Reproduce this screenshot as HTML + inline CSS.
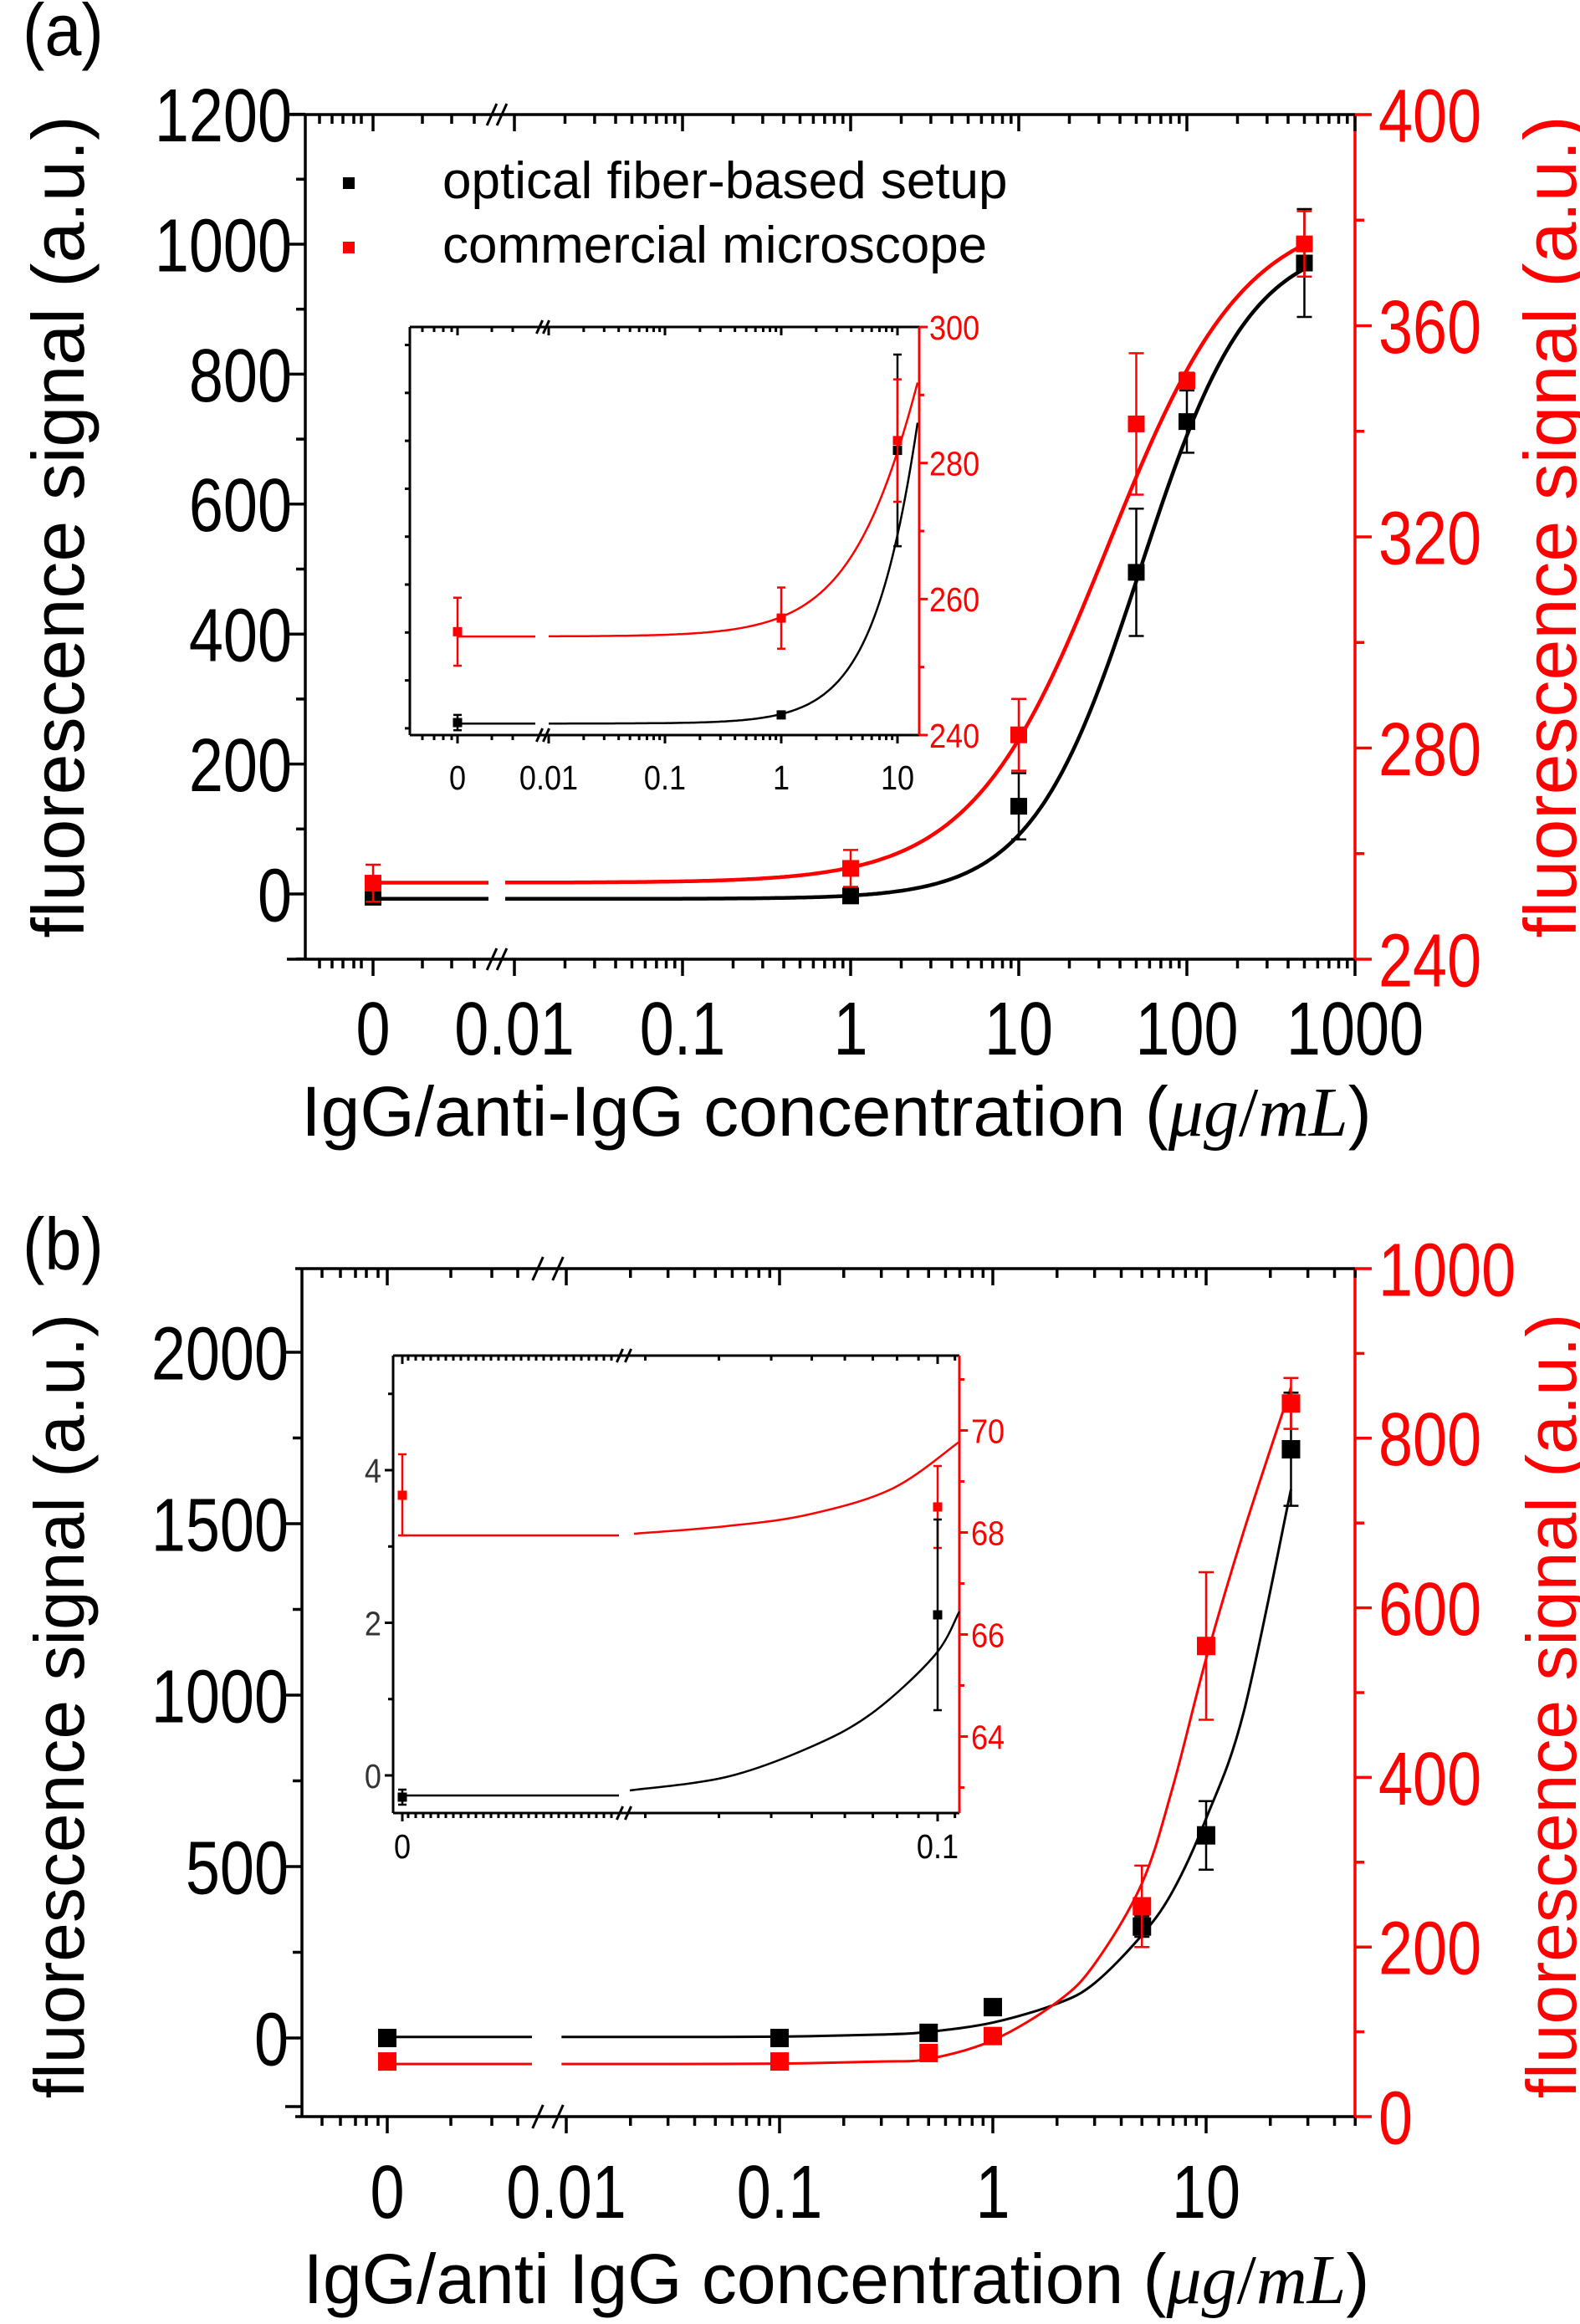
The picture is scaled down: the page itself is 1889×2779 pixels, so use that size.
<!DOCTYPE html>
<html><head><meta charset="utf-8">
<style>html,body{margin:0;padding:0;background:#fff;}svg{display:block;font-family:"Liberation Sans",sans-serif;}</style>
</head><body>
<svg id="s" xmlns="http://www.w3.org/2000/svg" width="1889" height="2779" viewBox="0 0 1889 2779"></svg>
<script>
const S=[];const R='#ff0000';
const lg=Math.log10;
function L(x1,y1,x2,y2,c,w){S.push(`<line x1="${x1}" y1="${y1}" x2="${x2}" y2="${y2}" stroke="${c||'#000'}" stroke-width="${w||3.5}"/>`);}
function T(x,y,s,size,anchor,c,sx){S.push(`<text transform="translate(${x},${y}) scale(${sx||1},1)" font-size="${size}" text-anchor="${anchor||'middle'}" fill="${c||'#000'}">${s}</text>`);}
function PL(pts,c,w){if(pts.length<2)return;S.push(`<polyline points="${pts.map(p=>p[0].toFixed(1)+','+p[1].toFixed(1)).join(' ')}" fill="none" stroke="${c}" stroke-width="${w}" stroke-linejoin="round"/>`);}
function CR(pts,c,w){
  let d=`M${pts[0][0]},${pts[0][1]}`;
  for(let i=0;i<pts.length-1;i++){const p0=pts[Math.max(0,i-1)],p1=pts[i],p2=pts[i+1],p3=pts[Math.min(pts.length-1,i+2)];
    d+=` C${p1[0]+(p2[0]-p0[0])/6},${p1[1]+(p2[1]-p0[1])/6} ${p2[0]-(p3[0]-p1[0])/6},${p2[1]-(p3[1]-p1[1])/6} ${p2[0]},${p2[1]}`;}
  S.push(`<path d="${d}" fill="none" stroke="${c}" stroke-width="${w}"/>`);}
function SQ(x,y,s,c){S.push(`<rect x="${x-s/2}" y="${y-s/2}" width="${s}" height="${s}" fill="${c}"/>`);}
function EB(x,y1,y2,cw,c,w){L(x,y1,x,y2,c,w);L(x-cw/2,y1,x+cw/2,y1,c,w);L(x-cw/2,y2,x+cw/2,y2,c,w);}
function slash(x,y,h){L(x-h*0.45,y+h,x+h*0.45,y-h,'#000',3);}

function axes(o){
  const {l,r,t,b,ax0,fx,xm,xmin,xextra,yL,yR,brk,fs,sx,ml,mn,lw,lblY}=o;
  L(ax0,t,r,t,'#000',lw);L(ax0,b,r,b,'#000',lw);L(l,t,l,b,'#000',lw);L(r,t,r,b,R,lw);
  xm.forEach(m=>{const x=fx(m[0]);L(x,b,x,b+ml,'#000',lw);L(x,t,x,t+ml,'#000',lw);T(x,lblY,m[1],fs,'middle','#000',sx);});
  xmin.concat(xextra).forEach(x=>{L(x,b,x,b+mn,'#000',lw);L(x,t,x,t+mn,'#000',lw);});
  for(let v=yL.s;v<=yL.max+1e-9;v+=yL.minor){const y=yL.f(v);if(y<t-1||y>b+1)continue;
    const maj=Math.abs((v/yL.major)-Math.round(v/yL.major))<1e-6;
    L(l-(maj?ml:mn),y,l,y,'#000',lw);
    if(maj&&v>=yL.lab0)T(l-(o.lgap||16),y+fs*0.36,String(v),fs,'end',o.lc||'#000',sx);}
  for(let v=yR.s;v<=yR.max+1e-9;v+=yR.minor){const y=yR.f(v);if(y<t-1||y>b+1)continue;
    const maj=Math.abs((v/yR.major)-Math.round(v/yR.major))<1e-6;
    L(r,y,r+(maj?ml:mn),y,R,lw);
    if(maj&&v>=yR.lab0)T(r+(o.rgap||28),y+fs*0.36,String(v),fs,'start',R,sx);}
  brk.forEach(x=>{slash(x,t,o.bh);slash(x,b,o.bh);});
}
function logMinors(fx,d0,d1,lim){const a=[];for(let d=d0;d<=d1;d++)for(let m=2;m<=9;m++){const x=fx(m*Math.pow(10,d));if(x<=lim+0.5)a.push(x);}return a;}

/* ===== Panel a ===== */
{
const fx=v=>v===0?446:1017+201*lg(v);
const fyL=v=>1069-v*0.777, fyR=v=>1147-(v-240)*6.3125;
axes({l:365,r:1620,t:137,b:1147,ax0:343,fx,
 xm:[[0,'0'],[0.01,'0.01'],[0.1,'0.1'],[1,'1'],[10,'10'],[100,'100'],[1000,'1000']],
 xmin:logMinors(fx,-2,2,1620),xextra:[382,397,410,423,432,505,540,567],
 yL:{s:-100,max:1200,major:200,minor:100,f:fyL,lab0:0},
 yR:{s:240,max:400,major:40,minor:20,f:fyR,lab0:240},
 brk:[588,600],fs:90,sx:0.82,ml:20,mn:11,lw:3.5,lblY:1261,bh:13});
const bA=v=>v===0?-7.5:-7.5+1017.5*Math.pow(v,1.34)/(Math.pow(53,1.34)+Math.pow(v,1.34));
const rA=v=>v===0?254.5:254.5+127.7*Math.pow(v,1.07)/(Math.pow(34,1.07)+Math.pow(v,1.07));
function curve(f,fy,c,w,x0,xg1,xg2,xe,c0,dd){PL([[x0,fy(f(0))],[xg1,fy(f(0))]],c,w);const p=[];for(let px=xg2;px<=xe;px+=3){p.push([px,fy(f(Math.pow(10,(px-c0)/dd)))]);}PL(p,c,w);}
curve(bA,fyL,'#000',4.5,446,584,604,1559,1017,201);
curve(rA,fyR,R,4.5,446,584,604,1559,1017,201);
[[0,-5,8],[1,-3,5],[10,135,51],[50,495,98],[100,727,48],[500,971,83]].forEach(d=>{const x=fx(d[0]);EB(x,fyL(d[1]+d[2]),fyL(d[1]-d[2]),18,'#000',2.5);SQ(x,fyL(d[1]),20,'#000');});
[[0,254.4,3.5],[1,257.2,3.5],[10,282.5,6.8],[50,341.4,13.4],[100,349.6,1.5],[500,375.5,6.2]].forEach(d=>{const x=fx(d[0]);EB(x,fyR(d[1]+d[2]),fyR(d[1]-d[2]),18,R,2.5);SQ(x,fyR(d[1]),20,R);});
SQ(417,219,14,'#000');T(529,237,'optical fiber-based setup',62,'start','#000',1);
SQ(417,296,14,R);T(529,314,'commercial microscope',62,'start','#000',1);
const ix=v=>v===0?547:934+139*lg(v);
const iyL=v=>848-v*2.292, iyR=v=>879-(v-240)*8.133;
S.push('<rect x="490" y="391" width="609" height="488" fill="#fff"/>');
axes({l:490,r:1099,t:391,b:879,ax0:490,fx:ix,
 xm:[[0,'0'],[0.01,'0.01'],[0.1,'0.1'],[1,'1'],[10,'10']],
 xmin:logMinors(ix,-2,1,1099),xextra:[505,519,530,540,588,613],
 yL:{s:-10,max:200,major:50,minor:25,f:iyL,lab0:0},
 yR:{s:240,max:300,major:20,minor:10,f:iyR,lab0:240},
 brk:[645,653],fs:41,sx:0.88,ml:10,mn:6,lw:3,lblY:944,bh:8,lgap:10,rgap:12,lc:'#333'});
curve(bA,iyL,'#000',2.5,547,640,656,1099,934,139);
curve(rA,iyR,R,2.5,547,640,656,1099,934,139);
[[0,-7,4],[1,-3,1],[10,135,50]].forEach(d=>{const x=ix(d[0]);EB(x,iyL(d[1]+d[2]),iyL(d[1]-d[2]),10,'#000',2.5);SQ(x,iyL(d[1]),11,'#000');});
[[0,255.2,5],[1,257.2,4.5],[10,283.3,9]].forEach(d=>{const x=ix(d[0]);EB(x,iyR(d[1]+d[2]),iyR(d[1]-d[2]),10,R,2.5);SQ(x,iyR(d[1]),11,R);});
T(27,66,'(a)',88,'start','#000',0.9);
S.push(`<text transform="translate(100,630) rotate(-90)" font-size="88" text-anchor="middle">fluorescence signal (a.u.)</text>`);
S.push(`<text transform="translate(1884,630) rotate(-90)" font-size="88" text-anchor="middle" fill="${R}">fluorescence signal (a.u.)</text>`);
S.push(`<text x="1000" y="1358" font-size="84" text-anchor="middle">IgG/anti-IgG concentration (<tspan font-family="Liberation Serif,serif" font-style="italic">μg</tspan><tspan font-family="Liberation Serif,serif">/</tspan><tspan font-family="Liberation Serif,serif" font-style="italic">mL</tspan>)</text>`);
}

/* ===== Panel b ===== */
{
const fx=v=>v===0?463:1187+255*lg(v);
const fyL=v=>2437-v*0.41, fyR=v=>2531-v*1.014;
axes({l:361,r:1620,t:1517,b:2531,ax0:353,fx,
 xm:[[0,'0'],[0.01,'0.01'],[0.1,'0.1'],[1,'1'],[10,'10']],
 xmin:logMinors(fx,-2,1,1620),xextra:[385,407,425,438,452,539,588,619],
 yL:{s:0,max:2244,major:500,minor:250,f:fyL,lab0:0},
 yR:{s:0,max:1000,major:200,minor:100,f:fyR,lab0:0},
 brk:[643,667],fs:90,sx:0.82,ml:20,mn:11,lw:3.5,lblY:2652,bh:14});
L(341,fyL(-200),361,fyL(-200),'#000',3.5);
const vs=[0.0095,0.03,0.1,0.3,0.5,1,2,3,5,7,10,15,25];
const rv=[62,62,62.5,65,68,90,135,180,275,390,540,690,860];
const bv=[3,3,4,10,18,45,100,160,300,430,640,950,1600];
PL([[463,fyL(3)],[636,fyL(3)]],'#000',3);PL([[463,fyR(62)],[636,fyR(62)]],R,3);
CR(vs.map((v,i)=>[fx(v),fyL(bv[i])]),'#000',3);
CR(vs.map((v,i)=>[fx(v),fyR(rv[i])]),R,3);
[[0,0,0],[0.1,0,0],[0.5,15,0],[1,90,10],[5,325,30],[10,591,100],[25,1717,165]].forEach(d=>{const x=fx(d[0]);if(d[2])EB(x,fyL(d[1]+d[2]),fyL(d[1]-d[2]),18,'#000',2.5);SQ(x,fyL(d[1]),22,'#000');});
[[0,65,0],[0.1,65,0],[0.5,75,0],[1,95,0],[5,248,48],[10,555,87],[25,841,30]].forEach(d=>{const x=fx(d[0]);if(d[2])EB(x,fyR(d[1]+d[2]),fyR(d[1]-d[2]),18,R,2.5);SQ(x,fyR(d[1]),22,R);});
const ix=v=>v===0?481:1121+500*lg(v/0.1);
const iyL=v=>2123-v*91.25, iyR=v=>2168-(v-62.5)*61;
S.push('<rect x="470" y="1621" width="677" height="547" fill="#fff"/>');
const dense=[];for(let x=488;x<738;x+=9)dense.push(x);
axes({l:470,r:1147,t:1621,b:2168,ax0:470,fx:ix,
 xm:[[0,'0'],[0.1,'0.1']],
 xmin:[0.02,0.03,0.04,0.05,0.06,0.07,0.08,0.09,0.11].map(ix).filter(x=>x<=1147),xextra:dense,
 yL:{s:0,max:5.5,major:2,minor:1,f:iyL,lab0:0},
 yR:{s:63,max:71.5,major:2,minor:1,f:iyR,lab0:64},
 brk:[741,751],fs:41,sx:0.88,ml:10,mn:6,lw:3,lblY:2222,bh:8,lgap:14,rgap:14,lc:'#333'});
PL([[481,2147],[740,2147]],'#000',2.5);
CR([[753,2141],[868,2125],[967,2090],[1042,2049],[1117,1980],[1147,1927]],'#000',2.5);
PL([[481,1836],[740,1836]],R,2.5);
CR([[758,1834],[868,1825],[967,1811],[1067,1780],[1147,1724]],R,2.5);
EB(481,1739,1836,10,R,2.5);SQ(481,1788,11,R);
EB(1121,1753,1851,10,R,2.5);SQ(1121,1802,11,R);
EB(481,2140,2158,10,'#000',2.5);SQ(481,2149,11,'#000');
EB(1121,1817,2045,10,'#000',2.5);SQ(1121,1931,11,'#000');
T(27,1518,'(b)',88,'start','#000',0.9);
S.push(`<text transform="translate(100,2040) rotate(-90)" font-size="84" text-anchor="middle">fluorescence signal (a.u.)</text>`);
S.push(`<text transform="translate(1884,2040) rotate(-90)" font-size="84" text-anchor="middle" fill="${R}">fluorescence signal (a.u.)</text>`);
S.push(`<text x="1000" y="2754" font-size="84" text-anchor="middle">IgG/anti IgG concentration (<tspan font-family="Liberation Serif,serif" font-style="italic">μg</tspan><tspan font-family="Liberation Serif,serif">/</tspan><tspan font-family="Liberation Serif,serif" font-style="italic">mL</tspan>)</text>`);
}
document.getElementById('s').innerHTML=S.join('');
</script>
</body></html>
